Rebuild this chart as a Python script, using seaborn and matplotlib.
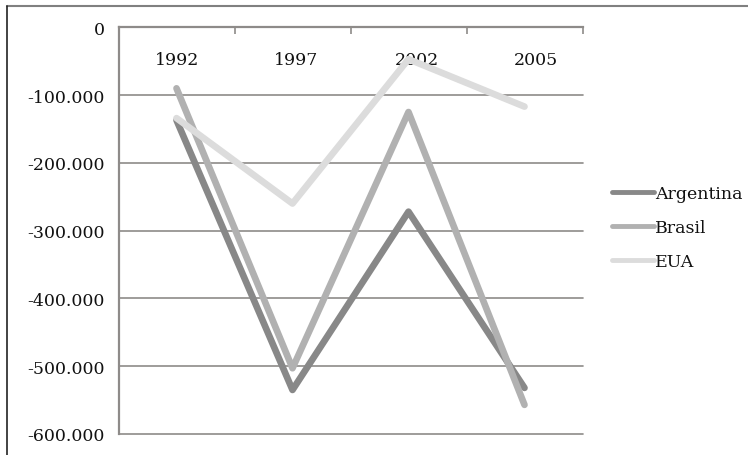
import matplotlib
matplotlib.use("Agg")
import matplotlib.pyplot as plt
from matplotlib.lines import Line2D
from matplotlib.ticker import FuncFormatter, FixedLocator
from matplotlib.transforms import ScaledTranslation
import seaborn as sns
import pandas as pd

years = ["1992", "1997", "2002", "2005"]
argentina = [-137000, -535000, -272000, -532000]
brasil = [-90000, -503000, -125000, -557000]
eua = [-134000, -260000, -47000, -117000]
series_names = ["Argentina", "Brasil", "EUA"]
colors = ["#888888", "#b1b1b1", "#dcdcdc"]
yticks = [-600000, -500000, -400000, -300000, -200000, -100000, 0]

df = pd.DataFrame({
    "ano": years * 3,
    "pos": list(range(len(years))) * 3,
    "valor": argentina + brasil + eua,
    "pais": sum([[n] * len(years) for n in series_names], []),
})

sns.set_style("white")
plt.rcParams["font.family"] = ["DejaVu Serif"]

fig = plt.figure(figsize=(7.48, 4.56), dpi=100)
ax = fig.add_axes([118.5 / 748, 1 - 435 / 456, (582.5 - 118.5) / 748, (435 - 28.3) / 456])

sns.lineplot(data=df, x="pos", y="valor", hue="pais", palette=colors,
             linewidth=4.8, ax=ax, legend=True, solid_capstyle="round")

ax.set_xlim(-0.5, 3.5)
ax.set_ylim(-600000, 0)
ax.set_xlabel("")
ax.set_ylabel("")

# gridlines
ax.yaxis.set_major_locator(FixedLocator(yticks))
ax.grid(axis="y", color="#8e8b89", linewidth=1.2)
ax.set_axisbelow(True)
for gl in ax.get_ygridlines():
    gl.set_clip_on(False)

ax.yaxis.set_major_formatter(FuncFormatter(
    lambda v, p: "0" if v == 0 else ("-" if v < 0 else "") + f"{abs(int(v)):,}".replace(",", ".")))
ax.tick_params(axis="y", which="major", length=4, width=1.2, color="#8e8b89",
               labelsize=12.5, labelcolor="#111111", pad=6, direction="out")

# category axis at top
ax.xaxis.tick_top()
ax.set_xticks(range(len(years)))
ax.set_xticklabels(years)
ax.set_xticks([-0.5, 0.5, 1.5, 2.5, 3.5], minor=True)
ax.tick_params(axis="x", which="major", length=0, labelsize=12.5, labelcolor="#111111", pad=-29)
ax.tick_params(axis="x", which="minor", length=5, width=1.2, color="#8e8b89", direction="in", top=True)
label_shift_px = [1, 4, 8, 11]
for lab, dx in zip(ax.get_xticklabels(), label_shift_px):
    lab.set_transform(lab.get_transform() + ScaledTranslation(dx / 100, 0, fig.dpi_scale_trans))

for s in ["right", "bottom"]:
    ax.spines[s].set_visible(False)
ax.spines["left"].set_color("#8e8b89")
ax.spines["left"].set_linewidth(1.6)
ax.spines["top"].set_color("#8e8b89")
ax.spines["top"].set_linewidth(1.6)

handles, labels = ax.get_legend_handles_labels()
leg = ax.legend(handles, labels, loc="upper left", bbox_to_anchor=(612 / 748, 1 - 186 / 456),
                bbox_transform=fig.transFigure, frameon=False, fontsize=12.5,
                handlelength=2.4, handletextpad=0.1, labelspacing=0.98, borderaxespad=0,
                borderpad=0)
for l in leg.get_lines():
    l.set_linewidth(3.5)
for t in leg.get_texts():
    t.set_color("#111111")

# chart area border (top and left)
fig.add_artist(Line2D([6.5 / 748, 1.0], [1 - 6.5 / 456, 1 - 6.5 / 456], transform=fig.transFigure,
                      color="#808080", linewidth=1.5))
fig.add_artist(Line2D([6.5 / 748, 6.5 / 748], [0, 1 - 6.5 / 456], transform=fig.transFigure,
                      color="#222222", linewidth=1.2))

fig.savefig("out.png", dpi=100)
